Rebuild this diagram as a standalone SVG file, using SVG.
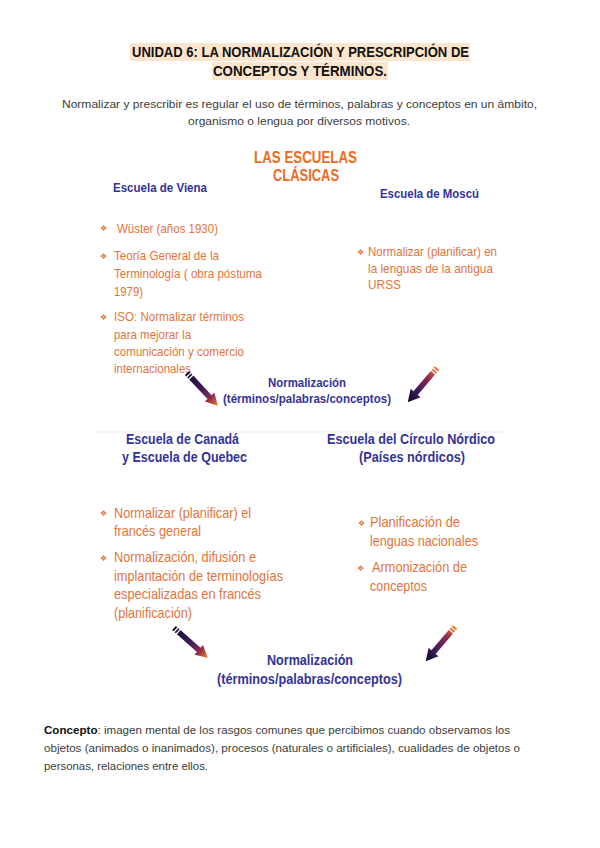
<svg xmlns="http://www.w3.org/2000/svg" width="600" height="848" viewBox="0 0 600 848">
<style>
.title{font-family:"Liberation Sans",Arial,sans-serif;font-weight:bold;font-size:14px;fill:#111}
.sub{font-family:"Liberation Sans",Arial,sans-serif;font-size:11.5px;fill:#3c3c3c}
.main{font-family:"Liberation Sans",Arial,sans-serif;font-weight:bold;font-size:17px;fill:#f26a1b}
.hd{font-family:"Liberation Sans",Arial,sans-serif;font-weight:bold;font-size:13.5px;fill:#333399}
.hd2{font-family:"Liberation Sans",Arial,sans-serif;font-weight:bold;font-size:14.5px;fill:#333399}
.b{font-family:"Liberation Sans",Arial,sans-serif;font-size:13.5px;fill:#e3733a}
.b2{font-family:"Liberation Sans",Arial,sans-serif;font-size:15px;fill:#e3733a}
.dot{font-family:"DejaVu Sans",sans-serif;font-size:8px;fill:#e3733a}
.para{font-family:"Liberation Sans",Arial,sans-serif;font-size:11.5px;fill:#3c3c3c}
</style>
<defs>
<linearGradient id="gL" x1="0" y1="0" x2="1" y2="0">
<stop offset="0" stop-color="#120c30"/>
<stop offset="0.45" stop-color="#3a1a5a"/>
<stop offset="0.75" stop-color="#8a2a50"/>
<stop offset="1" stop-color="#f27a1e"/>
</linearGradient>
<linearGradient id="gR" x1="0" y1="0" x2="1" y2="0">
<stop offset="0" stop-color="#f27a1e"/>
<stop offset="0.3" stop-color="#8a2a50"/>
<stop offset="0.7" stop-color="#3a1a5a"/>
<stop offset="1" stop-color="#0c0820"/>
</linearGradient>
<g id="arrL">
<path d="M0,-2.8 L33,-2.8 L33,-6.5 L45,0 L33,6.5 L33,2.8 L0,2.8 Z" fill="url(#gL)"/>
<rect x="2" y="-3" width="1.3" height="6" fill="#fff"/>
<rect x="5" y="-3" width="1.3" height="6" fill="#fff"/>
</g>
<g id="arrR">
<path d="M0,-2.8 L33,-2.8 L33,-6.5 L45,0 L33,6.5 L33,2.8 L0,2.8 Z" fill="url(#gR)"/>
<rect x="2" y="-3" width="1.3" height="6" fill="#fff"/>
<rect x="5" y="-3" width="1.3" height="6" fill="#fff"/>
</g>
</defs>
<rect width="600" height="848" fill="#fff"/>

<g id="title">
<rect x="130" y="43" width="340" height="18" fill="#fde4cc"/>
<rect x="212" y="62" width="176" height="18" fill="#fde4cc"/>
<text class="title" x="132" y="57" textLength="337" lengthAdjust="spacingAndGlyphs">UNIDAD 6: LA NORMALIZACIÓN Y PRESCRIPCIÓN DE</text>
<text class="title" x="213" y="76" textLength="174" lengthAdjust="spacingAndGlyphs">CONCEPTOS Y TÉRMINOS.</text>
</g>

<g id="intro">
<text class="sub" x="62" y="108" textLength="475" lengthAdjust="spacingAndGlyphs">Normalizar y prescribir es regular el uso de términos, palabras y conceptos en un ámbito,</text>
<text class="sub" x="188" y="125" textLength="222" lengthAdjust="spacingAndGlyphs">organismo o lengua por diversos motivos.</text>
</g>

<g id="escuelas-clasicas">
<text class="main" x="254" y="163" textLength="103" lengthAdjust="spacingAndGlyphs">LAS ESCUELAS</text>
<text class="main" x="273" y="181" textLength="66" lengthAdjust="spacingAndGlyphs">CLÁSICAS</text>
</g>

<g id="viena">
<text class="hd" x="113" y="192" textLength="94" lengthAdjust="spacingAndGlyphs">Escuela de Viena</text>
<text class="dot" x="100" y="231">❖</text>
<text class="b" x="117" y="233" textLength="101" lengthAdjust="spacingAndGlyphs">Wüster (años 1930)</text>
<text class="dot" x="100" y="259">❖</text>
<text class="b" x="114" y="260" textLength="105" lengthAdjust="spacingAndGlyphs">Teoría General de la</text>
<text class="b" x="114" y="278" textLength="148" lengthAdjust="spacingAndGlyphs">Terminología ( obra póstuma</text>
<text class="b" x="114" y="296" textLength="29" lengthAdjust="spacingAndGlyphs">1979)</text>
<text class="dot" x="100" y="320">❖</text>
<text class="b" x="114" y="321" textLength="130" lengthAdjust="spacingAndGlyphs">ISO: Normalizar términos</text>
<text class="b" x="114" y="339" textLength="77" lengthAdjust="spacingAndGlyphs">para mejorar la</text>
<text class="b" x="114" y="356" textLength="130" lengthAdjust="spacingAndGlyphs">comunicación y comercio</text>
<text class="b" x="114" y="373" textLength="77" lengthAdjust="spacingAndGlyphs">internacionales</text>
</g>

<g id="moscu">
<text class="hd" x="380" y="198" textLength="99" lengthAdjust="spacingAndGlyphs">Escuela de Moscú</text>
<text class="dot" x="357" y="255">❖</text>
<text class="b" x="368" y="256" textLength="129" lengthAdjust="spacingAndGlyphs">Normalizar (planificar) en</text>
<text class="b" x="368" y="273" textLength="125" lengthAdjust="spacingAndGlyphs">la lenguas de la antigua</text>
<text class="b" x="368" y="289" textLength="33" lengthAdjust="spacingAndGlyphs">URSS</text>
</g>

<g id="normalizacion-1">
<text class="hd" x="268" y="387" textLength="78" lengthAdjust="spacingAndGlyphs">Normalización</text>
<text class="hd" x="223" y="403" textLength="168" lengthAdjust="spacingAndGlyphs">(términos/palabras/conceptos)</text>
</g>

<line x1="97" y1="432" x2="502" y2="432" stroke="#ececec" stroke-width="1.2"/>

<g id="canada">
<text class="hd2" x="126" y="444" textLength="113" lengthAdjust="spacingAndGlyphs">Escuela de Canadá</text>
<text class="hd2" x="122" y="462" textLength="125" lengthAdjust="spacingAndGlyphs">y Escuela de Quebec</text>
<text class="dot" x="100" y="516">❖</text>
<text class="b2" x="114" y="518" textLength="137" lengthAdjust="spacingAndGlyphs">Normalizar (planificar) el</text>
<text class="b2" x="114" y="536" textLength="87" lengthAdjust="spacingAndGlyphs">francés general</text>
<text class="dot" x="100" y="561">❖</text>
<text class="b2" x="114" y="562" textLength="142" lengthAdjust="spacingAndGlyphs">Normalización, difusión e</text>
<text class="b2" x="114" y="581" textLength="169" lengthAdjust="spacingAndGlyphs">implantación de terminologías</text>
<text class="b2" x="114" y="599" textLength="147" lengthAdjust="spacingAndGlyphs">especializadas en francés</text>
<text class="b2" x="114" y="618" textLength="78" lengthAdjust="spacingAndGlyphs">(planificación)</text>
</g>

<g id="nordico">
<text class="hd2" x="327" y="444" textLength="168" lengthAdjust="spacingAndGlyphs">Escuela del Círculo Nórdico</text>
<text class="hd2" x="359" y="462" textLength="106" lengthAdjust="spacingAndGlyphs">(Países nórdicos)</text>
<text class="dot" x="358" y="526">❖</text>
<text class="b2" x="370" y="527" textLength="90" lengthAdjust="spacingAndGlyphs">Planificación de</text>
<text class="b2" x="370" y="546" textLength="108" lengthAdjust="spacingAndGlyphs">lenguas nacionales</text>
<text class="dot" x="357" y="571">❖</text>
<text class="b2" x="372" y="572" textLength="95" lengthAdjust="spacingAndGlyphs">Armonización de</text>
<text class="b2" x="370" y="591" textLength="57" lengthAdjust="spacingAndGlyphs">conceptos</text>
</g>

<g id="normalizacion-2">
<text class="hd2" x="267" y="665" textLength="86" lengthAdjust="spacingAndGlyphs">Normalización</text>
<text class="hd2" x="217" y="684" textLength="185" lengthAdjust="spacingAndGlyphs">(términos/palabras/conceptos)</text>
</g>

<g id="connectors">
<use href="#arrL" transform="translate(187,373) rotate(46.8)"/>
<use href="#arrR" transform="translate(437,368) rotate(130.5)"/>
<use href="#arrL" transform="translate(174,628) rotate(41.4)"/>
<use href="#arrR" transform="translate(455,627) rotate(130.6)"/>
</g>

<g id="concepto">
<text class="para" x="44" y="734" textLength="466" lengthAdjust="spacingAndGlyphs"><tspan font-weight="bold" fill="#111">Concepto</tspan>: imagen mental de los rasgos comunes que percibimos cuando observamos los</text>
<text class="para" x="44" y="752" textLength="476" lengthAdjust="spacingAndGlyphs">objetos (animados o inanimados), procesos (naturales o artificiales), cualidades de objetos o</text>
<text class="para" x="44" y="770" textLength="164" lengthAdjust="spacingAndGlyphs">personas, relaciones entre ellos.</text>
</g>
</svg>
